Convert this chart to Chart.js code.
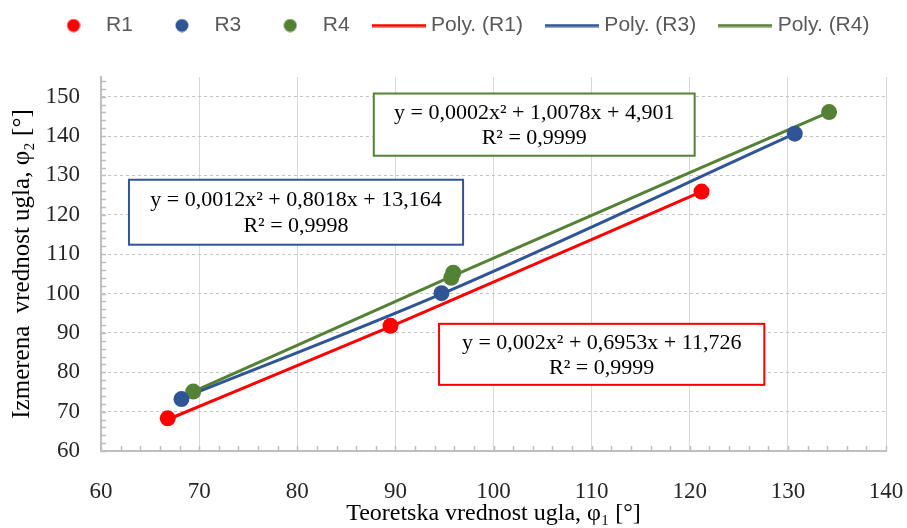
<!DOCTYPE html>
<html>
<head>
<meta charset="utf-8">
<script src="https://cdn.jsdelivr.net/npm/chart.js@4.4.1/dist/chart.umd.min.js"></script>
<style>
html,body{margin:0;padding:0;background:#ffffff;overflow:hidden}
canvas{display:block}
</style>
</head>
<body>
<canvas id="c" width="907" height="528"></canvas>
<script>
// ---------- DATA ----------
const seriesNames = ['R1', 'R3', 'R4'];
const trendNames = ['Poly. (R1)', 'Poly. (R3)', 'Poly. (R4)'];

const r1X = [66.8, 89.5, 121.2];
const r1Y = [68.3, 91.8, 125.9];
const r3X = [68.2, 94.7, 130.7];
const r3Y = [73.2, 100.1, 140.6];
const r4X = [69.4, 95.7, 95.9, 134.2];
const r4Y = [75.1, 104.0, 105.3, 146.1];

// trendline course
const t1X = [66.8, 89.5, 121.2];
const t1Y = [68.0, 91.6, 125.9];
const t3X = [68.2, 94.7, 130.7];
const t3Y = [73.3, 99.9, 140.6];
const t4X = [69.4, 95.8, 134.2];
const t4Y = [75.1, 104.4, 146.1];

const xTickValues = [60, 70, 80, 90, 100, 110, 120, 130, 140];
const yTickValues = [60, 70, 80, 90, 100, 110, 120, 130, 140, 150];

const equationTexts = [
  'y = 0,002x² + 0,6953x + 11,726',
  'y = 0,0012x² + 0,8018x + 13,164',
  'y = 0,0002x² + 1,0078x + 4,901'
];
const r2Texts = ['R² = 0,9999', 'R² = 0,9998', 'R² = 0,9999'];

const xTitle = 'Teoretska vrednost ugla, φ₁ [°]';
const yTitle = 'Izmerena  vrednost ugla, φ₂ [°]';

// ---------- STYLE ----------
const COLORS = ['#ff0000', '#2f5597', '#548235'];
const SERIF = '"Liberation Serif", "Times New Roman", serif';
const SANS = '"Liberation Sans", Arial, sans-serif';
// equation box placement (in axis units) : [left, right, top, bottom]
const BOX_POS = [
  [94.45, 127.6, 92.3, 76.8],
  [62.85, 96.9, 128.9, 112.4],
  [87.8, 120.5, 150.8, 135.0]
];
const LEGEND_PAD = 27;
const LAYOUT_TOP = -12;
const LAYOUT_LEFT = 14;
const PLOT_LEFT = 101;
const PLOT_RIGHT_GAP = 21;
const PLOT_TOP = 77;

function pts(xs, ys) { return xs.map((x, i) => ({x: x, y: ys[i]})); }

function dotImg(color) {
  const c = document.createElement('canvas');
  c.width = 14; c.height = 14;
  const g = c.getContext('2d');
  g.fillStyle = color;
  g.beginPath(); g.arc(7, 7, 6.5, 0, Math.PI * 2); g.fill();
  return c;
}
function lineImg(color) {
  const c = document.createElement('canvas');
  c.width = 54; c.height = 4;
  const g = c.getContext('2d');
  g.fillStyle = color;
  g.fillRect(0, 0.5, 54, 3);
  return c;
}

const seriesX = [r1X, r3X, r4X], seriesY = [r1Y, r3Y, r4Y];
const trendX = [t1X, t3X, t4X], trendY = [t1Y, t3Y, t4Y];

const datasets = [];
seriesNames.forEach((n, i) => {
  datasets.push({
    label: n,
    data: pts(seriesX[i], seriesY[i]),
    backgroundColor: COLORS[i],
    borderColor: COLORS[i],
    pointRadius: 8,
    pointHoverRadius: 8,
    pointBorderWidth: 0,
    showLine: false,
    order: 0,
    legendImg: dotImg(COLORS[i])
  });
});
trendNames.forEach((n, i) => {
  datasets.push({
    label: n,
    data: pts(trendX[i], trendY[i]),
    borderColor: COLORS[i],
    backgroundColor: COLORS[i],
    borderWidth: 3,
    pointRadius: 0,
    showLine: true,
    fill: false,
    cubicInterpolationMode: 'monotone',
    order: 1,
    legendImg: lineImg(COLORS[i])
  });
});

const extras = {
  id: 'extras',
  afterInit(chart) {
    const lg = chart.legend;
    if (lg) {
      const f = lg.fit.bind(lg);
      lg.fit = function () { f(); this.height = PLOT_TOP - LAYOUT_TOP; };
    }
  },
  beforeDatasetsDraw(chart) {
    const {ctx, chartArea: a, scales: {x, y}} = chart;
    ctx.save();
    ctx.strokeStyle = '#bfbfbf';
    ctx.lineWidth = 1.5;
    for (let v = x.min; v <= x.max + 0.001; v += 2) {
      const px = Math.round(x.getPixelForValue(v)) + 0.5;
      ctx.beginPath(); ctx.moveTo(px, a.bottom); ctx.lineTo(px, a.bottom - 5); ctx.stroke();
    }
    for (let v = y.min; v <= y.max + 0.001; v += 2) {
      const py = Math.round(y.getPixelForValue(v)) + 0.5;
      ctx.beginPath(); ctx.moveTo(a.left, py); ctx.lineTo(a.left + 5, py); ctx.stroke();
    }
    ctx.restore();
  },
  afterDatasetsDraw(chart) {
    const {ctx, scales: {x, y}} = chart;
    ctx.save();
    BOX_POS.forEach((b, i) => {
      const l = x.getPixelForValue(b[0]), r = x.getPixelForValue(b[1]);
      const t = y.getPixelForValue(b[2]), bt = y.getPixelForValue(b[3]);
      const h = bt - t;
      ctx.fillStyle = '#ffffff';
      ctx.fillRect(l, t, r - l, h);
      ctx.strokeStyle = COLORS[i];
      ctx.lineWidth = 2;
      ctx.strokeRect(l, t, r - l, h);
      ctx.fillStyle = '#000000';
      ctx.font = '22px ' + SERIF;
      ctx.textAlign = 'center';
      ctx.textBaseline = 'middle';
      const cx = (l + r) / 2;
      ctx.fillText(equationTexts[i], cx, t + h * 0.31);
      ctx.fillText(r2Texts[i], cx, t + h * 0.72);
    });
    ctx.restore();
  }
};

new Chart(document.getElementById('c'), {
  type: 'scatter',
  data: {datasets: datasets},
  options: {
    responsive: false,
    animation: false,
    devicePixelRatio: 1,
    layout: {padding: {top: LAYOUT_TOP, left: LAYOUT_LEFT, right: 0, bottom: 0}},
    plugins: {
      tooltip: {enabled: false},
      legend: {
        position: 'top',
        align: 'center',
        labels: {
          usePointStyle: true,
          pointStyleWidth: 44,
          padding: LEGEND_PAD,
          color: '#595959',
          font: {family: SANS, size: 21},
          generateLabels(chart) {
            return chart.data.datasets.map((ds, i) => ({
              text: ds.label,
              fillStyle: ds.borderColor,
              strokeStyle: ds.borderColor,
              lineWidth: 0,
              pointStyle: ds.legendImg,
              hidden: false,
              datasetIndex: i,
              fontColor: '#595959'
            }));
          }
        }
      }
    },
    scales: {
      x: {
        type: 'linear',
        min: 60,
        max: 140,
        afterFit(s) { s.height = 77; s.paddingLeft = 0; s.paddingRight = PLOT_RIGHT_GAP; },
        afterBuildTicks(s) { s.ticks = xTickValues.map(v => ({value: v})); },
        ticks: {
          color: '#262626',
          font: {family: SERIF, size: 23},
          padding: 27,
          maxRotation: 0,
          callback: v => String(v)
        },
        grid: {color: '#d9d9d9', lineWidth: 1, drawTicks: false},
        border: {display: true, color: '#bfbfbf', width: 2},
        title: {
          display: true,
          text: xTitle,
          color: '#000000',
          font: {family: SERIF, size: 24},
          padding: {top: 0, bottom: 0}
        }
      },
      y: {
        type: 'linear',
        min: 60,
        max: 155,
        afterFit(s) { s.width = PLOT_LEFT - LAYOUT_LEFT; },
        afterBuildTicks(s) { s.ticks = yTickValues.map(v => ({value: v})); },
        ticks: {
          color: '#262626',
          font: {family: SERIF, size: 23},
          padding: 21,
          callback: v => String(v)
        },
        grid: {color: '#c4c4c4', lineWidth: 1, drawTicks: false},
        border: {display: true, color: '#bfbfbf', width: 2, dash: [3, 3]},
        title: {
          display: true,
          text: yTitle,
          color: '#000000',
          font: {family: SERIF, size: 25},
          padding: {top: -7, bottom: 0}
        }
      }
    }
  },
  plugins: [extras]
});
</script>
</body>
</html>
